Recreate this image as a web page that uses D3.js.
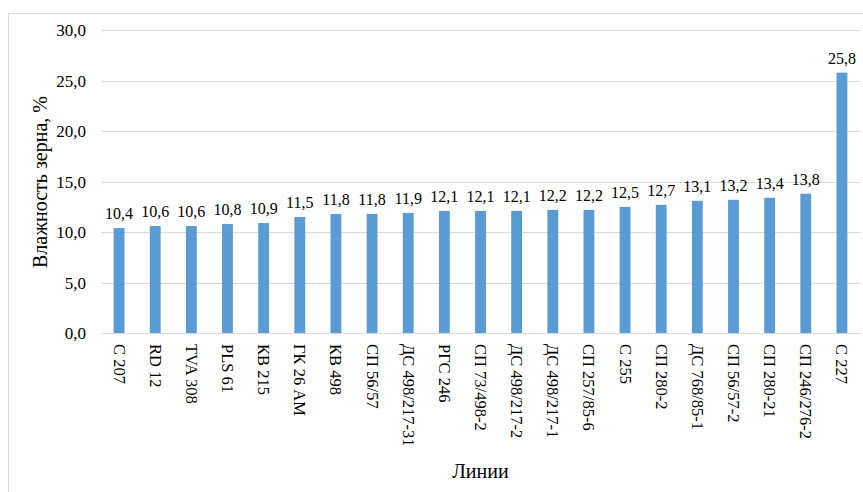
<!DOCTYPE html>
<html><head><meta charset="utf-8">
<script src="https://cdn.jsdelivr.net/npm/d3@7"></script>
<style>body{margin:0;background:#fff}svg{display:block}text{font-family:"Liberation Serif","Times New Roman",serif;fill:#000}</style>
</head><body>
<script>
const categories = ["С 207","RD 12","TVA 308","PLS 61","КВ 215","ГК 26 АМ","КВ 498","СП 56/57","ДС 498/217-31","РГС 246","СП 73/498-2","ДС 498/217-2","ДС 498/217-1","СП 257/85-6","С 255","СП 280-2","ДС 768/85-1","СП 56/57-2","СП 280-21","СП 246/276-2","С 227"];
const values = [10.4,10.6,10.6,10.8,10.9,11.5,11.8,11.8,11.9,12.1,12.1,12.1,12.2,12.2,12.5,12.7,13.1,13.2,13.4,13.8,25.8];
const yTicks = [0,5,10,15,20,25,30];
const yTitle = "Влажность зерна, %";
const xTitle = "Линии";

const W=863,H=492;
const svg=d3.select("body").append("svg").attr("width",W).attr("height",H);
svg.append("rect").attr("x",8.5).attr("y",13.5).attr("width",W).attr("height",H).attr("fill","none").attr("stroke","#d9d9d9");
const L=101,R=860,T=30.3,B=333;
const x=d3.scaleBand().domain(categories).range([L,R]).paddingInner(0.7).paddingOuter(0.35);
const y=d3.scaleLinear().domain([0,30]).range([B,T]);
const fmt=v=>d3.format(".1f")(v).replace(".",",");

svg.append("g").selectAll("line").data(yTicks).join("line")
 .attr("x1",L).attr("x2",R).attr("y1",d=>Math.round(y(d))+0.5).attr("y2",d=>Math.round(y(d))+0.5)
 .attr("stroke","#d9d9d9").attr("stroke-width",1);

const ya=d3.axisLeft(y).tickValues(yTicks).tickFormat(fmt).tickSize(0).tickPadding(0);
const yg=svg.append("g").attr("transform",`translate(86,0)`).call(ya);
yg.select(".domain").remove();
yg.selectAll("text").style("font-size","17px").style("font-family",'"Liberation Serif",serif');

svg.append("g").selectAll("rect").data(values).join("rect")
 .attr("x",(d,i)=>x(categories[i])).attr("width",x.bandwidth())
 .attr("y",d=>y(d)).attr("height",d=>y(0)-y(d)).attr("fill","#5b9bd5");

svg.append("g").selectAll("text").data(values).join("text")
 .attr("x",(d,i)=>x(categories[i])+x.bandwidth()/2).attr("y",d=>y(d)-9)
 .attr("text-anchor","middle").style("font-size","16px").text(fmt);

const xa=d3.axisBottom(x).tickSize(0).tickPadding(0);
const xg=svg.append("g").attr("transform",`translate(0,${B})`).call(xa);
xg.select(".domain").remove();
xg.selectAll("text").attr("transform","rotate(90)").attr("x",11).attr("y",0).attr("dy","0.33em")
 .attr("text-anchor","start").style("font-size","16.5px").style("font-family",'"Liberation Serif",serif');

svg.append("text").attr("transform","translate(47,182) rotate(-90)").attr("text-anchor","middle").style("font-size","20px").text(yTitle);
svg.append("text").attr("x",(L+R)/2).attr("y",478).attr("text-anchor","middle").style("font-size","20px").text(xTitle);
</script>
</body></html>
